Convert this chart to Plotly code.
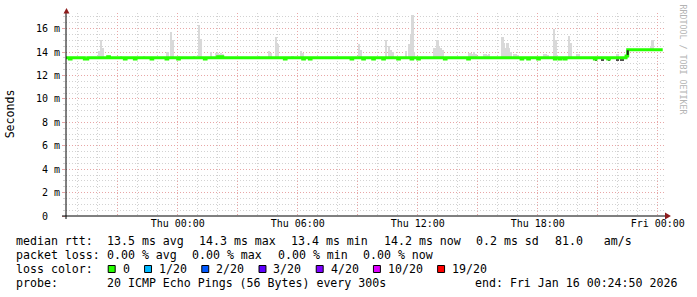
import numpy as np
import pandas as pd
import plotly.graph_objects as go

# ---------------- data ----------------
x_start = "2026-01-14 18:24:50"
x_end = "2026-01-16 00:24:50"

# median RTT (ms), step changes: value holds until next time
median_time = [
    "2026-01-14 18:25", "2026-01-14 18:35", "2026-01-14 18:40",
    "2026-01-14 19:20", "2026-01-14 19:30",
    "2026-01-14 20:30", "2026-01-14 20:35",
    "2026-01-14 21:20", "2026-01-14 21:25",
    "2026-01-14 21:50", "2026-01-14 21:55",
    "2026-01-14 22:40", "2026-01-14 22:45",
    "2026-01-14 23:25", "2026-01-14 23:30",
    "2026-01-15 00:00", "2026-01-15 00:05",
    "2026-01-15 01:20", "2026-01-15 01:25",
    "2026-01-15 02:00", "2026-01-15 02:05",
    "2026-01-15 02:10", "2026-01-15 02:15",
    "2026-01-15 05:20", "2026-01-15 05:25",
    "2026-01-15 06:15", "2026-01-15 06:20",
    "2026-01-15 06:35", "2026-01-15 06:40",
    "2026-01-15 08:40", "2026-01-15 08:45",
    "2026-01-15 09:15", "2026-01-15 09:20",
    "2026-01-15 09:45", "2026-01-15 09:50",
    "2026-01-15 10:15", "2026-01-15 10:20",
    "2026-01-15 11:00", "2026-01-15 11:05",
    "2026-01-15 11:40", "2026-01-15 11:45",
    "2026-01-15 12:00", "2026-01-15 12:05",
    "2026-01-15 13:20", "2026-01-15 13:25",
    "2026-01-15 14:30", "2026-01-15 14:35",
    "2026-01-15 17:10", "2026-01-15 17:15",
    "2026-01-15 17:30", "2026-01-15 17:35",
    "2026-01-15 18:00", "2026-01-15 18:05",
    "2026-01-15 18:50", "2026-01-15 18:55",
    "2026-01-15 19:05", "2026-01-15 19:10",
    "2026-01-15 19:20", "2026-01-15 19:25",
    "2026-01-15 20:50", "2026-01-15 20:55",
    "2026-01-15 21:30", "2026-01-15 21:35",
    "2026-01-15 22:25", "2026-01-15 22:30",
    "2026-01-16 00:15",
]
median_ms = [
    13.5, 13.4, 13.5,
    13.4, 13.5,
    13.6, 13.5,
    13.4, 13.5,
    13.4, 13.5,
    13.4, 13.5,
    13.4, 13.5,
    13.4, 13.5,
    13.4, 13.5,
    13.6, 13.5,
    13.6, 13.5,
    13.4, 13.5,
    13.4, 13.5,
    13.4, 13.5,
    13.4, 13.5,
    13.4, 13.5,
    13.4, 13.5,
    13.4, 13.5,
    13.4, 13.5,
    13.4, 13.5,
    13.4, 13.5,
    13.4, 13.5,
    13.4, 13.5,
    13.4, 13.5,
    13.4, 13.5,
    13.4, 13.5,
    13.4, 13.5,
    13.4, 13.5,
    13.4, 13.5,
    13.4, 13.5,
    13.4, 13.5,
    13.65, 14.2,
    14.2,
]

# smoke (highest ping of the slot, ms)
smoke_time = [
    "2026-01-14 20:05", "2026-01-14 20:10", "2026-01-14 20:15",
    "2026-01-14 21:10", "2026-01-14 22:20",
    "2026-01-14 23:30", "2026-01-14 23:40", "2026-01-14 23:45",
    "2026-01-15 00:05", "2026-01-15 00:50",
    "2026-01-15 01:05", "2026-01-15 01:10", "2026-01-15 01:40",
    "2026-01-15 01:55", "2026-01-15 02:00", "2026-01-15 02:05",
    "2026-01-15 02:10", "2026-01-15 02:15",
    "2026-01-15 04:05", "2026-01-15 04:35", "2026-01-15 04:40",
    "2026-01-15 04:55", "2026-01-15 05:00", "2026-01-15 05:45",
    "2026-01-15 06:10", "2026-01-15 06:15",
    "2026-01-15 09:05", "2026-01-15 09:10",
    "2026-01-15 10:25", "2026-01-15 10:35", "2026-01-15 10:40",
    "2026-01-15 10:45", "2026-01-15 11:25",
    "2026-01-15 11:35", "2026-01-15 11:40", "2026-01-15 11:45",
    "2026-01-15 11:50",
    "2026-01-15 12:50", "2026-01-15 12:55", "2026-01-15 13:00",
    "2026-01-15 13:05", "2026-01-15 13:10", "2026-01-15 13:15",
    "2026-01-15 14:35", "2026-01-15 14:40", "2026-01-15 14:45",
    "2026-01-15 14:50", "2026-01-15 14:55",
    "2026-01-15 15:20", "2026-01-15 15:25", "2026-01-15 15:30",
    "2026-01-15 15:35",
    "2026-01-15 16:15", "2026-01-15 16:20", "2026-01-15 16:25",
    "2026-01-15 16:30", "2026-01-15 16:35", "2026-01-15 16:40",
    "2026-01-15 16:50", "2026-01-15 16:55", "2026-01-15 17:00",
    "2026-01-15 18:20", "2026-01-15 18:25", "2026-01-15 18:30",
    "2026-01-15 18:50", "2026-01-15 18:55",
    "2026-01-15 19:35", "2026-01-15 19:40",
    "2026-01-15 20:00", "2026-01-15 20:05",
    "2026-01-15 22:00",
    "2026-01-15 23:40", "2026-01-15 23:45",
]
smoke_top = [
    14.1, 15.0, 14.3,
    13.7, 13.65,
    14.0, 15.7, 15.0,
    13.7, 13.7,
    16.3, 15.1, 14.0,
    13.9, 13.9, 13.85,
    13.9, 13.8,
    13.7, 14.05, 13.9,
    15.3, 14.7, 13.6,
    14.1, 13.9,
    14.7, 14.2,
    15.0, 14.5, 14.2,
    14.0, 14.05,
    14.7, 15.55, 17.2,
    14.0,
    14.3, 14.3, 15.0,
    14.5, 14.3, 14.2,
    13.95, 13.95, 13.8,
    14.0, 13.8,
    13.85, 13.85, 13.75,
    13.8,
    15.3, 14.8, 14.3,
    14.8, 14.3, 14.0,
    13.8, 13.8, 13.75,
    13.8, 13.8, 13.75,
    16.0, 15.0,
    15.35, 14.8,
    13.85, 13.85,
    13.8,
    14.5, 15.0,
]

# dense (dark) smoke just below the median near the end
dark_time = ["2026-01-15 20:55", "2026-01-15 21:15", "2026-01-15 21:35",
             "2026-01-15 22:00", "2026-01-15 22:10", "2026-01-15 22:15"]
dark_low = [13.3, 13.3, 13.3, 13.3, 13.3, 13.3]
dark_high = [13.42, 13.42, 13.42, 13.42, 13.42, 13.42]

# transition ping spread at the level change
step_time = ["2026-01-15 22:30", "2026-01-15 22:30"]
step_ms = [13.75, 14.15]

# axis ticks
y_tick_vals = [0, 2, 4, 6, 8, 10, 12, 14, 16]
y_tick_text = ["0\u00a0\u00a0", "2 m", "4 m", "6 m", "8 m", "10 m", "12 m", "14 m", "16 m"]
x_tick_vals = ["2026-01-14 21:00", "2026-01-15 00:00", "2026-01-15 03:00",
               "2026-01-15 06:00", "2026-01-15 09:00", "2026-01-15 12:00",
               "2026-01-15 15:00", "2026-01-15 18:00", "2026-01-15 21:00",
               "2026-01-16 00:00"]
x_tick_text = ["", "Thu 00:00", "", "Thu 06:00", "", "Thu 12:00", "",
               "Thu 18:00", "", "Fri 00:00"]

# legend statistics
rtt_names = ["avg", "max", "min", "now"]
rtt_values = [13.5, 14.3, 13.4, 14.2]
rtt_sd = 0.2
rtt_ams = 81.0
loss_names = ["avg", "max", "min", "now"]
loss_values = [0.00, 0.00, 0.00, 0.00]
loss_labels = ["0", "1/20", "2/20", "3/20", "4/20", "10/20", "19/20"]
loss_colors = ["#26ff00", "#00b8ff", "#0059ff", "#5e00ff", "#7e00ff", "#dd00ff", "#ff0000"]
probe_text = "20 ICMP Echo Pings (56 Bytes) every 300s"
end_text = "end: Fri Jan 16 00:24:50 2026"

assert len(median_time) == len(median_ms)
assert len(smoke_time) == len(smoke_top)

# ---------------- layout helpers ----------------
W, H = 697, 297
ML, MR, MT, MB = 66, 27, 13, 81
PW = W - ML - MR
PH = H - MT - MB
CHAR = 7.0      # monospace advance of the legend font (px)
GAP = 16.0      # gap between legend items (px)


def px(x):
    return (x - ML) / PW


def py(y):
    return (H - MB - y) / PH


MONO = "DejaVu Sans Mono"
GRID_MAJ = "#e8a6a6"
GRID_MIN = "#d2d2d2"
ARROW = "#8e1c1c"


def nb(s):
    return s.replace(" ", "\u00a0")


# ---------------- traces ----------------
mt = pd.to_datetime(median_time).values
st = pd.to_datetime(smoke_time).values
idx = np.searchsorted(mt, st, side="right") - 1
smoke_base = np.array(median_ms)[idx]

fig = go.Figure()
fig.add_trace(go.Bar(
    x=smoke_time, y=np.array(smoke_top) - smoke_base, base=smoke_base,
    width=300000, marker=dict(color="#d9d9d9", line=dict(width=0)),
    hoverinfo="skip"))
fig.add_trace(go.Bar(
    x=dark_time, y=np.array(dark_high) - np.array(dark_low), base=dark_low,
    width=300000, marker=dict(color="#505050", line=dict(width=0)),
    hoverinfo="skip"))
fig.add_trace(go.Scatter(
    x=median_time, y=median_ms, mode="lines",
    line=dict(color=loss_colors[0], width=3, shape="hv", simplify=False),
    hoverinfo="skip"))
fig.add_trace(go.Scatter(
    x=step_time, y=step_ms, mode="lines",
    line=dict(color="#202020", width=2, simplify=False), hoverinfo="skip"))

# ---------------- axes ----------------
fig.update_xaxes(
    type="date", range=[x_start, x_end],
    tickvals=x_tick_vals, ticktext=x_tick_text,
    showgrid=True, gridcolor=GRID_MAJ, griddash="1px,2px", gridwidth=1,
    ticks="",
    minor=dict(dtick=3600000, tick0="2026-01-14 00:00", showgrid=True,
               gridcolor=GRID_MIN, griddash="1px,2px", gridwidth=1),
    tickfont=dict(family=MONO, size=10, color="black"),
    showline=False, zeroline=False, fixedrange=True)
fig.update_yaxes(
    range=[0, 17.33],
    tickvals=y_tick_vals, ticktext=y_tick_text,
    showgrid=True, gridcolor=GRID_MAJ, griddash="1px,2px", gridwidth=1,
    ticks="outside", ticklen=3, tickcolor=GRID_MAJ,
    minor=dict(dtick=0.5, showgrid=True, gridcolor=GRID_MIN,
               griddash="1px,2px", gridwidth=1,
               ticks="outside", ticklen=2, tickcolor=GRID_MIN),
    tickfont=dict(family=MONO, size=10, color="black"),
    showline=False, zeroline=False, fixedrange=True)

shapes = [
    # axis lines
    dict(type="line", xref="paper", yref="paper", x0=px(62), x1=px(670),
         y0=0, y1=0, line=dict(color="black", width=1)),
    dict(type="line", xref="paper", yref="paper", x0=0, x1=0,
         y0=py(219), y1=py(12), line=dict(color="black", width=1)),
    # arrows
    dict(type="path", xref="paper", yref="paper",
         path=f"M {px(63.5)} {py(13.5)} L {px(69.5)} {py(13.5)} L {px(66.5)} {py(8)} Z",
         fillcolor=ARROW, line=dict(color=ARROW, width=0)),
    dict(type="path", xref="paper", yref="paper",
         path=f"M {px(669)} {py(212.5)} L {px(669)} {py(219.5)} L {px(675)} {py(216)} Z",
         fillcolor=ARROW, line=dict(color=ARROW, width=0)),
]

annotations = []


def add_text(x, y, text, size=11.6, color="black", angle=0, xanchor="left"):
    annotations.append(dict(
        x=px(x), y=py(y), xref="paper", yref="paper", text=nb(text),
        showarrow=False, xanchor=xanchor, yanchor="middle", textangle=angle,
        font=dict(family=MONO, size=size, color=color),
        borderpad=0, borderwidth=0))


def add_row(y, label, items, x0=107.0):
    add_text(16, y, label)
    x = x0
    for it in items:
        add_text(x, y, it)
        x += len(it) * CHAR + GAP


row1_items = [f"{v:.1f} ms {n}" for n, v in zip(rtt_names, rtt_values)]
row1_items += [f"{rtt_sd:.1f} ms sd", f"{rtt_ams:.1f}   am/s"]
row2_items = [f"{v:.2f} % {n}" for n, v in zip(loss_names, loss_values)]
add_row(241, "median rtt:", row1_items)
add_row(255, "packet loss:", row2_items)
add_text(16, 269, "loss color:")
add_text(16, 283, "probe:")
add_text(107, 283, probe_text)
add_text(681, 283, end_text, xanchor="right")

sq_left = 108.5
for lab, col in zip(loss_labels, loss_colors):
    shapes.append(dict(type="rect", xref="paper", yref="paper",
                       x0=px(sq_left), x1=px(sq_left + 7),
                       y0=py(272.5), y1=py(265.5),
                       fillcolor=col, line=dict(color="black", width=1)))
    add_text(sq_left + 14.5, 269, lab)
    sq_left += 14.5 + CHAR * len(lab) + 15.1

# y-axis title and watermark
add_text(10, 114, "Seconds", angle=-90, xanchor="center")
add_text(687.5, 60, "RRDTOOL / TOBI OETIKER", size=8.3, color="#b4b4b4",
         angle=90, xanchor="center")

fig.update_layout(
    width=W, height=H,
    margin=dict(l=ML, r=MR, t=MT, b=MB, pad=0),
    paper_bgcolor="white", plot_bgcolor="white",
    showlegend=False, barmode="overlay", bargap=0,
    shapes=shapes, annotations=annotations,
    font=dict(family=MONO, size=10, color="black"),
)

fig.write_html("out.html")
